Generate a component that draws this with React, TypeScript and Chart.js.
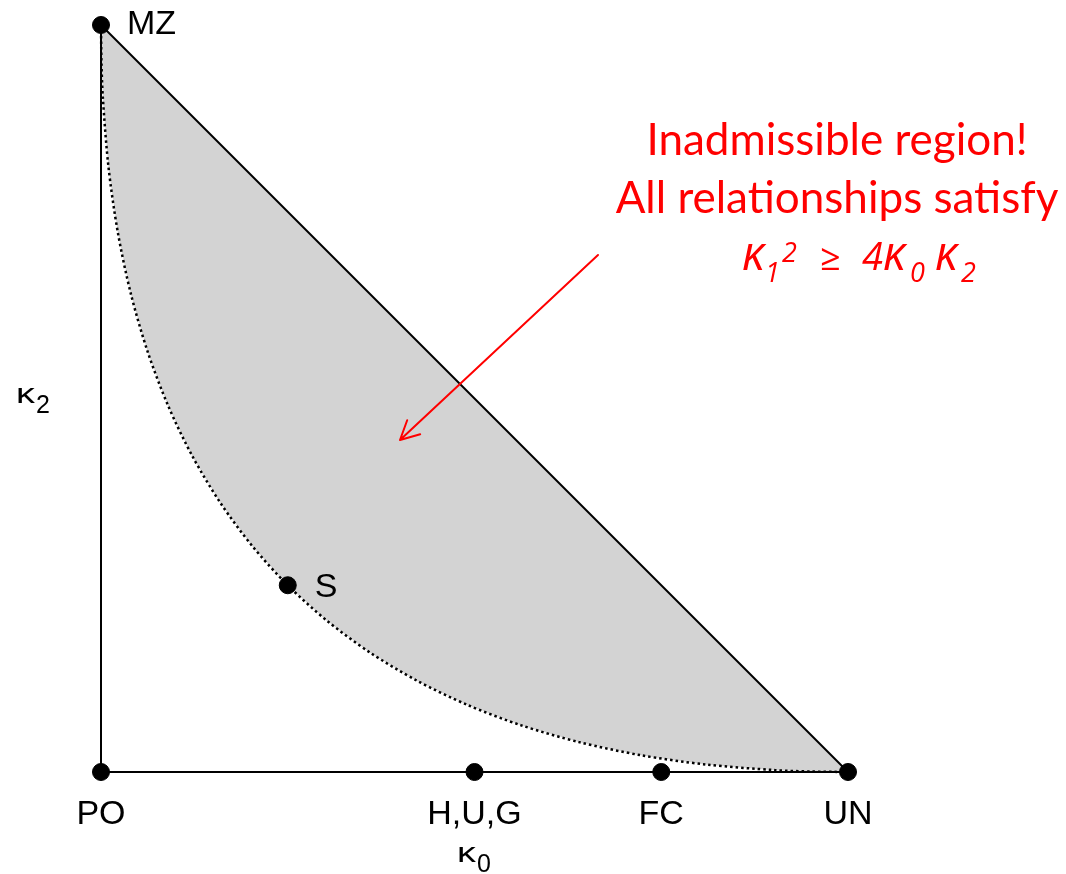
import React, { useEffect, useRef } from "react";
import { Chart, registerables } from "chart.js";

Chart.register(...registerables);

// Named relationship points (kappa0, kappa2)
const pointLabels = ["MZ", "S", "PO", "H,U,G", "FC", "UN"];
const pointK0 = [0, 0.25, 0, 0.5, 0.75, 1];
const pointK2 = [1, 0.25, 0, 0, 0, 0];

// Boundary curve kappa1^2 = 4 kappa0 kappa2
const curveK0 = [0, 0.000625, 0.0025, 0.01, 0.0225, 0.04, 0.0625, 0.09, 0.1225, 0.16, 0.2025, 0.25, 0.3025, 0.36, 0.4225, 0.49, 0.5625, 0.64, 0.7225, 0.81, 0.9025, 0.950625, 1];
const curveK2 = [1, 0.950625, 0.9025, 0.81, 0.7225, 0.64, 0.5625, 0.49, 0.4225, 0.36, 0.3025, 0.25, 0.2025, 0.16, 0.1225, 0.09, 0.0625, 0.04, 0.0225, 0.01, 0.0025, 0.000625, 0];

// Triangle edges
const diagK0 = [0, 1];
const diagK2 = [1, 0];
const leftK0 = [0, 0];
const leftK2 = [0, 1];
const bottomK0 = [0, 1];
const bottomK2 = [0, 0];

const annotationLines = ["Inadmissible region!", "All relationships satisfy"];

const toXY = (xs: number[], ys: number[]) => xs.map((x, i) => ({ x, y: ys[i] }));

const labelOffsets: Record<string, { dx: number; dy: number; align: CanvasTextAlign }> = {
  MZ: { dx: 26, dy: 9, align: "left" },
  S: { dx: 27, dy: 12, align: "left" },
  PO: { dx: 0, dy: 52, align: "center" },
  "H,U,G": { dx: 0, dy: 52, align: "center" },
  FC: { dx: 0, dy: 52, align: "center" },
  UN: { dx: 0, dy: 52, align: "center" },
};

const overlayPlugin = {
  id: "overlay",
  afterDatasetsDraw(chart: any) {
    const ctx = chart.ctx as CanvasRenderingContext2D;
    const xs = chart.scales.x;
    const ys = chart.scales.y;
    ctx.save();
    // point labels
    ctx.fillStyle = "#000";
    ctx.font = '34px "Liberation Sans", Arial, sans-serif';
    ctx.textBaseline = "alphabetic";
    pointLabels.forEach((lab, i) => {
      const off = labelOffsets[lab];
      const px = xs.getPixelForValue(pointK0[i]);
      const py = ys.getPixelForValue(pointK2[i]);
      ctx.textAlign = off.align;
      ctx.fillText(lab, px + off.dx, py + off.dy);
    });

    // axis titles: kappa with subscript
    const drawKappa = (x: number, y: number, sub: string) => {
      ctx.textAlign = "left";
      ctx.textBaseline = "alphabetic";
      ctx.fillStyle = "#000";
      ctx.save();
      ctx.translate(x, y);
      ctx.scale(1.35, 1);
      ctx.font = '28px "Liberation Sans", Arial, sans-serif';
      ctx.fillText("κ", 0, 0);
      ctx.restore();
      ctx.font = '25px "Liberation Sans", Arial, sans-serif';
      ctx.fillText(sub, x + 20, y + 10);
    };
    drawKappa(16, 403, "2");
    drawKappa(457, 862, "0");

    // red annotation
    ctx.fillStyle = "#ff0000";
    ctx.textAlign = "center";
    ctx.textBaseline = "alphabetic";
    ctx.font = '44px Lato, "Open Sans", sans-serif';
    ctx.fillText(annotationLines[0], 837, 155);
    ctx.fillText(annotationLines[1], 837, 213);

    // formula line (italic)
    const kap = 'italic 47px "Open Sans", "Noto Sans", sans-serif';
    const dig = 'italic 38px "Open Sans", "Noto Sans", sans-serif';
    const small = 'italic 27px "Open Sans", "Noto Sans", sans-serif';
    const rel = '36px "Open Sans", "Noto Sans", sans-serif';
    ctx.textAlign = "left";
    const put = (t: string, font: string, x: number, y: number) => {
      ctx.font = font;
      ctx.fillText(t, x, y);
    };
    put("κ", kap, 742, 270);
    put("1", small, 765, 282);
    put("2", small, 782, 262);
    put("≥", rel, 820, 270);
    put("4", dig, 862, 270);
    put("κ", kap, 883, 270);
    put("0", small, 910, 282);
    put("κ", kap, 935, 270);
    put("2", small, 961, 282);

    // arrow
    ctx.strokeStyle = "#ff0000";
    ctx.lineWidth = 2;
    ctx.lineCap = "round";
    const x1 = 598, y1 = 255, x2 = 400, y2 = 440;
    ctx.beginPath();
    ctx.moveTo(x1, y1);
    ctx.lineTo(x2, y2);
    const ang = Math.atan2(y2 - y1, x2 - x1);
    const hl = 21;
    const spread = 0.47;
    ctx.moveTo(x2, y2);
    ctx.lineTo(x2 - hl * Math.cos(ang - spread), y2 - hl * Math.sin(ang - spread));
    ctx.moveTo(x2, y2);
    ctx.lineTo(x2 - hl * Math.cos(ang + spread), y2 - hl * Math.sin(ang + spread));
    ctx.stroke();
    ctx.restore();
  },
};

export default function App() {
  const ref = useRef<HTMLCanvasElement>(null);
  useEffect(() => {
    document.body.style.margin = "0";
    const canvas = ref.current;
    if (!canvas) return;
    const polygon = [...toXY(curveK0, curveK2), ...toXY(diagK0, diagK2).reverse()];
    const chart = new Chart(canvas, {
      type: "scatter",
      data: {
        datasets: [
          {
            label: "points",
            data: toXY(pointK0, pointK2),
            pointRadius: 8.5,
            pointBackgroundColor: "#000",
            pointBorderColor: "#000",
            showLine: false,
            clip: false,
          } as any,
          {
            label: "left",
            data: toXY(leftK0, leftK2),
            showLine: true,
            borderColor: "#000",
            borderWidth: 2,
            pointRadius: 0,
            clip: false,
          },
          {
            label: "bottom",
            data: toXY(bottomK0, bottomK2),
            showLine: true,
            borderColor: "#000",
            borderWidth: 2,
            pointRadius: 0,
            clip: false,
          },
          {
            label: "diag",
            data: toXY(diagK0, diagK2),
            showLine: true,
            borderColor: "#000",
            borderWidth: 2,
            pointRadius: 0,
            clip: false,
          },
          {
            label: "curve",
            data: toXY(curveK0, curveK2),
            showLine: true,
            borderColor: "#000",
            borderWidth: 2.5,
            borderDash: [2.5, 3],
            pointRadius: 0,
            tension: 0.3,
            clip: false,
          },
          {
            label: "fill",
            data: polygon,
            showLine: true,
            borderWidth: 0,
            borderColor: "rgba(0,0,0,0)",
            backgroundColor: "#d3d3d3",
            fill: "shape",
            pointRadius: 0,
            clip: false,
          } as any,
        ],
      },
      options: {
        animation: false,
        responsive: false,
        maintainAspectRatio: false,
        layout: { padding: { left: 101, right: 218, top: 25, bottom: 102 } },
        plugins: { legend: { display: false }, tooltip: { enabled: false } },
        scales: {
          x: { type: "linear", min: 0, max: 1, display: false },
          y: { type: "linear", min: 0, max: 1, display: false },
        },
      },
      plugins: [overlayPlugin],
    });
    return () => chart.destroy();
  }, []);
  return (
    <div style={{ position: "absolute", left: 0, top: 0, width: 1066, height: 874, background: "#fff" }}>
      <canvas ref={ref} width={1066} height={874} style={{ width: 1066, height: 874 }} />
    </div>
  );
}
